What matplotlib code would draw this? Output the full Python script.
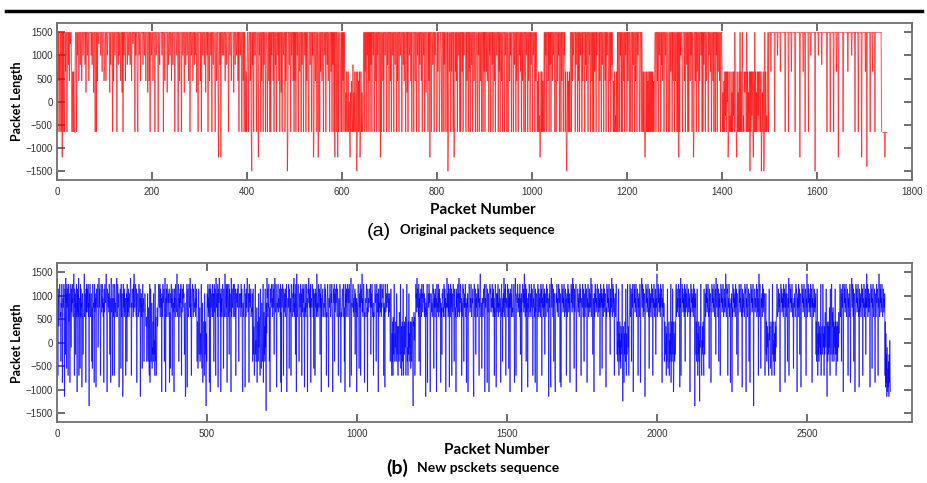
import numpy as np
import matplotlib.pyplot as plt
from matplotlib.lines import Line2D
from matplotlib.collections import LineCollection

plt.rcParams['font.family'] = ['Liberation Sans', 'DejaVu Sans']

# (a) original sequence: one character per packet
levels_a = {'.': 1500, 'a': 1250, 'b': 1000, 'c': 800, 'd': 650, 'e': 450,
            'f': 200, 'g': 0, 'h': -300, 'm': -650, 'n': -1200, 'o': -1400,
            'p': -1500}
rows_a = [
    "mdm.ebm.gm .n.m.fm.d. .mb.c.e.a. .mmdmdmmd. .m.b..e..c",
    "..e..b...c .f..b..e.. ..b.c..f.. mm.m.e..a. ..b..d...e",
    "c..e..b... .f.c...m.e ..b...m..c .b..e..f.m .b..e...c.",
    ".b..c..e.. a...m.b..f m..b..e... .c..b..e.. .f..e.m..b",
    "..e...m..b ...m..c... .b..m..e.. ..f..c..b. .e..c...m.",
    "..b..m..e. ..m..b..f. .c..b..e.. m..b..e..c .b..f..m..",
    "..e.m..b.. c..f..b.m. .e..b.m..c ..bm..e..f n..c.n..b.",
    ".b..e..c.. .m..b..e.. ..f..c..b. .e.m..b..m ..e.m.bmdm",
    "d..mb..e.m p.c.m..b.. m..dn.b..m .e..m.c..m ..bm..e.m.",
    "m.b..e.m.. c.m..b.e.m ..f.m..b.. m.e..pm..c ..m.b..e.m",
    ".e.m..b.m. .d..m.c..m ..b.m.e..f m..c..m.b. nm..e..m.d",
    "n..m.d..e. .m..b.m..c .e..m..d.m .c.m.n..m. bn.md..em.",
    "m.e.m.dmfm dhmdmgmnfm ehmcmfmdhm dpmdmemdnm dmfmhd.m.d",
    ".m.b.m.e.m .c.m..b.m. .e.m.b..m. .n.m..e.m. .b..m.c..m",
    "..e.m..b.m ..c..m.e.. m..b..m..c .e..m..f.m ..b..e.m..",
    ".m..e..m.b ..m.c..e.m ..b.m..f.. .m.e.n..m. .c..m.b..m",
    "m.d..me..b m..m.c.m.. .m.pm.d..m .d..m.nm.d .e.m..b.m.",
    "m..d.m.b.. .m.e..m.d. m..c.m..e. .m..dm.b.m ..e.m..m.d",
    ".m..d.e..m .b.m..c.m. .e.m..b..m .d.m..e.m. ..m.b..m.e",
    "m..e.b.m.. .m.c..m.e. .m..b.d.m. e..m..m.b. .m.e..m.c.",
    ".m.b..m.e. dmemdmhnmd mdmemd.m.b .m..e.m.c. m..e.b..m.",
    ".m..e.b.m. .m.e..m.b. mdmpmdmemd m..m.e.b.. .m.c..m.e.",
    "m.b..m.e.. .m.c.e..m. .b.m..e.m. m.d..m.b.. .m.e..m.c.",
    ".m..e.m.b. .m..e.m.c. dmemdmhmdm .m..m.b.m. m..e.m.b..",
    "m.e..m.bm. .m.c..m.e. .m.b..me.. m.dmdmdmnm dmdmemdmdm",
    "dmdmdmemd. .m..e.m.b. .m.c.e..m. .b.m..em.. m.d..m.e..",
    "m.e..m.m.n .m.b..dm.. .e.m..c.m. m..e.b.m.. nm..e.m.d.",
    ".m.e..b.m. m.c..m.e.. .m.b..d.m. .e.m..m.b. m.d..e.m..",
    "dmfmemdhdm dgdnmdmhmd mfmdhdm.dm mndmfmdm.m dmd.mhmdfd",
    "dm.mdmfmdp dmdhdmndm. mdmfmdhdmd dmdpmfmdpn .mdmhmd.m.",
    "...d...... .m.....b.. ...d...... ...m...... m.....d...",
    "....m..... ....n..... .d...m.... ..m....b.. ......p...",
    "...b...... c......... .m......m. .....m.... .d...n....",
    ".....m.... .....d.... ...b...... m......m.. ....n.....",
    "..d..o.... ..m....d.. ..m....... ......mmmm mmmnmmmmm",
]

# (b) new sequence: one letter per packet
codes_b = "abcdefghijklmnopqrstuvwxyz"
values_b = [-1450, -1350, -1250, -1150, -1050, -950, -850, -700, -550, -400,
            -250, -100, 50, 200, 350, 450, 550, 650, 750, 850, 950, 1050,
            1150, 1250, 1380, 1470]
levels_b = dict(zip(codes_b, values_b))
rows_b = [
    "eyqhwtosvx uqrjtsxvgq usvxrdqwky tvixsuwhrx pvtgqsxlwr",
    "utxsqvzrhw svktqxuewr vqyhstuixq wstfuvqkrs uzqsvtgwrx",
    "rwusxqtbvs xuqrvtjsix ustqgxrvsu fqwtsvxlqr yswtqhuxvr",
    "vxsuqtgwrs xvtuzsqewu tsvrxwkutg wyrsuhtxqs uhxvrtsqwy",
    "tqxwsuvfrs uwtixqsvrd gxsvqwrtuh stvjxqurws qvtsuywrht",
    "swvtqxrzus tvxsqwgrtv uqsxvtrwdu svqtiwxrus jqsvtrpoqj",
    "kovmjsnihx gnwpjmtilk pjvokmhxjp qhkmsopsux tsvxqwtsue",
    "vqsxtuwrjq yseuqwtxvs qsvtwgrqiv txsuhqwrts ewsuqxvtrw",
    "zqstwxjusv qwtxvhsrwt sxuvqkrtde qsuxftwrqs xusvyqwrhs",
    "tvxsqwurts vxquswrjpo imwnkpsjnm kxmiotgjnp ohvmkpibnj",
    "tvsxqurwgv xewtsuvqxr qsvjxurwqh ywstvqxfuw tyxsqvewru",
    "qvxtsiwrqs zvtqxswgxv tqsxkwrvts eyqrwstuxq sxvqtwhrsv",
    "twsvxqjrvs tuvqxswrhe tqsvwxrfsv qwsuyxtrvs gxtvsuwqrs",
    "rvjpwkolhn oxkmjnsgkp mjvlqnkhwp kiotnjmxgo rkojwlqatn",
    "yuwqtsxrjs eqwtvxsuqr xswtkvyurs xwfqtsvxru tswvqxgrew",
    "suxvqhwrsv tqwsvxeqrt usxviwtsru hxwtqsvuxr yqtsvkxrez",
    "tqsvxwrjtv suxqvthwrs xtwqsfuxrt qvxsuerwvy tvswqxgtus",
    "sxvtqwiuvs hwsvtqzxrt qvxsuwrkvs xeuqsvwtrq tsvxqwuthr",
    "qsxvtfrusv xwqsvtxrqe suwtxjvrsw tvxsqwuthr uqsxvtgrqs",
    "swvtqxurjs exsvqwtuxr qswtxvfqsu yhqtsvwxru qstwkvrsue",
    "tqsvxwrisv sxhqwtvzru qsxvtgrqsu tvxqsewrsu tuwvsxkqvs",
    "xvqsthrqsu xwtvjqxurv sewqtsvxru xqtswvuxrh tqsfxwruvs",
    "sxwtvqusrv pjlwokhnjp hqkmxpjnlp mjvpkoihno jrqmkxiloh",
    "kpjnwhmokp nlqhkpxojl hpkvlnjmpi npjlqmkbpo rmqhkpxuvr",
    "yswvtqxjus vhswtqxuvr sxwtvqursd tqsvxgruvs xwtveqsvur",
    "tqsxvwiusv qwtsuexvrt sxqvtwrusg tqskvuwrsq xvswquerts",
    "ysvtqxrwfs vqxtswhuvr sxvqjwurqs ewsvtqxuvr yqsvtxwruh",
    "tqsxvwjusv sxvqtgrusv eqsvxwtrus xvqsutwrhd sxvqtwkusv",
    "vqsxtwrhus xzvqtsirus qswtvxerus xvtqgwurvs eqsxvwtrus",
    "txsvqwruhs qxwtfvurvs xqtsvwrusg tvxqsjurvs yqswtxhrus",
    "svxqtwiusv ewtsvqxurs qsvxtgruys hqsvtxwrus tvqxskurve",
    "qsxvtwruzs vqxtjwrusf tsvqxwursv qxtswvhrus xvqsgwruvs",
    "esvxqtwrus vqsxtwhrus xtqvswkuvs qsxtvwrusd tvsxqifuys",
    "sxvqtwjuvs heqsvtxwru sqxvtwrgsv fqsxvtwrus xvqstwruhs",
    "vqsxtwrusv gqsvxtwruy sxvqiwrsuv xeqstvwrus vqsxtwrhsu",
    "tsxvqwrjsv qxvstwrgus xvqtswruvs yqsxvtkrus evqsxtwrus",
    "sxvqtwrusv hqxsvtwius vqxstwruvs fsqxvtwrus xvqskwrusy",
    "vqsxtwruhs tvqsxwrkpj mlwhnkpjmi olnkxjcmol gnkpmjwlhn",
    "kpxmlohnqs xvqtwjuvsx qesvxtwrus xvqstwrhus vqsxtgruvy",
    "tsxvqwruvs dqsxvtwrus xvqsiwrusv qsxvtwhrus xvqtswkusv",
    "zqsvxtwrus vqxstwrgus xvqtsjpmlk ohnjpwkilo phmjnkxglp",
    "jmwkpehnlj pkmvxqtwru svxqtwfusy hqsvxtwrus vqxsjwruvs",
    "xvqstwrusv esqxvtwrus vqxtswbusv kpjmwlhnkp jmcolnxpjh",
    "mkolpjhwmk ovqsxtwrus xvqsiwruvs gqsxvtwrus xvqstwkyus",
    "svxqtwjusv qhsxvtwrus xvqstwrusz tqsxvwhrus xvqtsgrusv",
    "esqxvtwrus vqxstwkuvs hqsvxtwrus xvqsfwrusv tqsxvwreus",
    "xvqstwrjsv gqsxvtwrus xvbqstwrus svxqtwruhs zqsxvtirus",
    "vqxstwruvs hqsvkpjmol nkhpwmolik pnjhmxkplj mhnkpjolqs",
    "xvqstwrusv eqsxvtwrus vqxstwrgvs xqsvtjrusy hqsxvtwrus",
    "xvqstirusv tqsxvwreus vqxstwkuvs fqsxvtwrus xvqstwrhus",
    "zqsvxtwrus vqxstwrgus xvqtswrusv kpjmwlhnkp jmolnkxhjm",
    "okpxslnhok prmlwnkdpj mokplsjhwo kpxnjroskp jmolwkphjo",
    "kpjmolrnqs xvqtwjuvsx qesvxtwrus xvqstwrhus vqsxtgruvy",
    "tsxvqwjuvs eqsxvtwrus xvqsfwrusv qsxvtwhrus xvqtswkusz",
    "svxqtwrusv fqsxvtwius xvqstwrgsv qsxtvwrhus zvqsxtwrus",
    "xvqstwrusv hpfngkdlhe ifjdkgmhfe",
]

yticks = [-1500, -1000, -500, 0, 500, 1000, 1500]
xticks_a = [0, 200, 400, 600, 800, 1000, 1200, 1400, 1600, 1800]
xticks_b = [0, 500, 1000, 1500, 2000, 2500]

vals_a = [levels_a[c] for c in ''.join(rows_a).replace(' ', '')]
vals_b = [levels_b[c] for c in ''.join(rows_b).replace(' ', '')]


def trace(ax, vals, color, lw, alpha):
    # one segment per step so overlapping strokes build up like the original
    pts = np.column_stack([np.arange(len(vals)), vals])
    segs = np.stack([pts[:-1], pts[1:]], axis=1)
    ax.add_collection(LineCollection(segs, colors=color, linewidths=lw, alpha=alpha))


fig = plt.figure(figsize=(9.27, 4.83), dpi=100)
ax_a = fig.add_axes([0.0615, 0.6273, 0.9223, 0.3251])
ax_b = fig.add_axes([0.0615, 0.1263, 0.9223, 0.3292])

trace(ax_a, vals_a, '#ff0000', 0.8, 0.6)
trace(ax_b, vals_b, '#0000ff', 0.8, 0.65)

for ax, xt, xmax in [(ax_a, xticks_a, 1800), (ax_b, xticks_b, 2850)]:
    ax.set_xlim(0, xmax)
    ax.set_ylim(-1690, 1700)
    ax.set_xticks(xt)
    ax.set_yticks(yticks)
    ax.tick_params(direction='in', length=6, width=1.2, color='#555555',
                   top=True, right=True, labelsize=7, labelcolor='#333333', pad=3)
    ax.tick_params(axis='x', pad=5)
    for sp in ax.spines.values():
        sp.set_color('#707070')
        sp.set_linewidth(1.3)

bold = dict(family=['Lato', 'DejaVu Sans'], weight='bold', color='black')
fig.text(0.018, 0.79, 'Packet Length', rotation=90, ha='center', va='center', fontsize=9, **bold)
fig.text(0.018, 0.29, 'Packet Length', rotation=90, ha='center', va='center', fontsize=9, **bold)

fig.text(0.521, 0.565, 'Packet Number', ha='center', va='center', fontsize=11, **bold)
fig.text(0.409, 0.521, '(a)', ha='center', va='center', fontsize=14, color='black')
fig.text(0.431, 0.524, 'Original packets sequence', ha='left', va='center', fontsize=9.5, **bold)

fig.text(0.536, 0.068, 'Packet Number', ha='center', va='center', fontsize=11, **bold)
fig.text(0.429, 0.031, '(b)', ha='center', va='center', fontsize=14, **bold)
fig.text(0.450, 0.031, 'New psckets sequence', ha='left', va='center', fontsize=10, **bold)

# thick rule above the figure
fig.add_artist(Line2D([0.006, 0.995], [0.977, 0.977], color='black', lw=2.5))

fig.savefig('out.png', dpi=100)
